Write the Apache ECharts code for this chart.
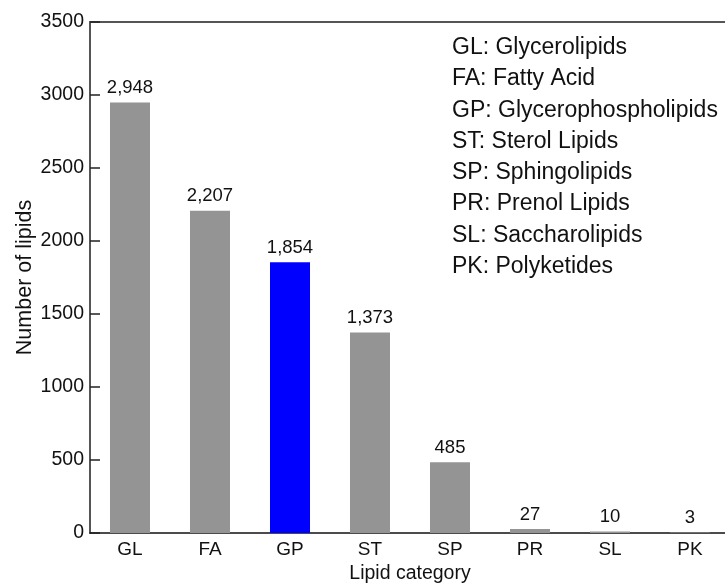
<!DOCTYPE html>
<html>
<head>
<meta charset="utf-8">
<script src="https://cdn.jsdelivr.net/npm/echarts@6/dist/echarts.min.js"></script>
<style>html,body{margin:0;padding:0;background:#fff}#c{width:725px;height:585px}</style>
</head>
<body>
<div id="c"></div>
<script>
var categories = ['GL', 'FA', 'GP', 'ST', 'SP', 'PR', 'SL', 'PK'];
var lipidCounts = [2948, 2207, 1854, 1373, 485, 27, 10, 3];
var highlightCategory = 'GP';
var yTicks = { min: 0, max: 3500, interval: 500 };
var legendLines = [
  'GL: Glycerolipids',
  'FA: Fatty Acid',
  'GP: Glycerophospholipids',
  'ST: Sterol Lipids',
  'SP: Sphingolipids',
  'PR: Prenol Lipids',
  'SL: Saccharolipids',
  'PK: Polyketides'
];
var xTitle = 'Lipid category';
var yTitle = 'Number of lipids';

var FONT = '"Liberation Sans", Arial, Helvetica, sans-serif';
var chart = echarts.init(document.getElementById('c'), null, { renderer: 'canvas' });

var barData = lipidCounts.map(function (v, i) {
  return {
    value: v,
    itemStyle: { color: categories[i] === highlightCategory ? '#0000ff' : '#949494' }
  };
});

chart.setOption({
  animation: false,
  backgroundColor: '#ffffff',
  grid: { left: 90, top: 22, width: 640, height: 511, containLabel: false, outerBoundsMode: 'none' },
  xAxis: [
    {
      type: 'category',
      data: categories,
      position: 'bottom',
      axisLine: { show: true, lineStyle: { color: '#111', width: 1.5 } },
      axisTick: { show: false },
      axisLabel: { color: '#111', fontFamily: FONT, fontSize: 19, margin: 7 },
      name: xTitle,
      nameLocation: 'middle',
      nameGap: 31,
      nameMoveOverlap: false,
      nameTextStyle: { color: '#111', fontFamily: FONT, fontSize: 19.5 }
    },
    {
      type: 'category',
      data: categories,
      position: 'top',
      axisLine: { show: true, lineStyle: { color: '#555', width: 2 } },
      axisTick: { show: false },
      axisLabel: { show: false }
    }
  ],
  yAxis: {
    type: 'value',
    min: yTicks.min,
    max: yTicks.max,
    interval: yTicks.interval,
    axisLine: { show: true, lineStyle: { color: '#555', width: 2 } },
    axisTick: { show: true, inside: true, length: 10, lineStyle: { color: '#222', width: 1.5 } },
    axisLabel: {
      color: '#111', fontFamily: FONT, fontSize: 19.5, margin: 6,
      formatter: function (v) { return String(v); }
    },
    splitLine: { show: false },
    name: yTitle,
    nameLocation: 'middle',
    nameGap: 54,
    nameMoveOverlap: false,
    nameRotate: 90,
    nameTextStyle: { color: '#111', fontFamily: FONT, fontSize: 21.5 }
  },
  series: [{
    type: 'bar',
    data: barData,
    barWidth: 40,
    xAxisIndex: 0,
    label: {
      show: true,
      position: 'top',
      distance: 5,
      color: '#111',
      fontFamily: FONT,
      fontSize: 18.5,
      formatter: function (p) { return p.value.toLocaleString('en-US'); }
    }
  }],
  graphic: [{
    type: 'text',
    left: 452,
    top: 32,
    style: {
      text: legendLines.join('\n'),
      fontFamily: FONT,
      fontSize: 23,
      lineHeight: 31.3,
      fill: '#111'
    }
  }]
});
</script>
</body>
</html>
